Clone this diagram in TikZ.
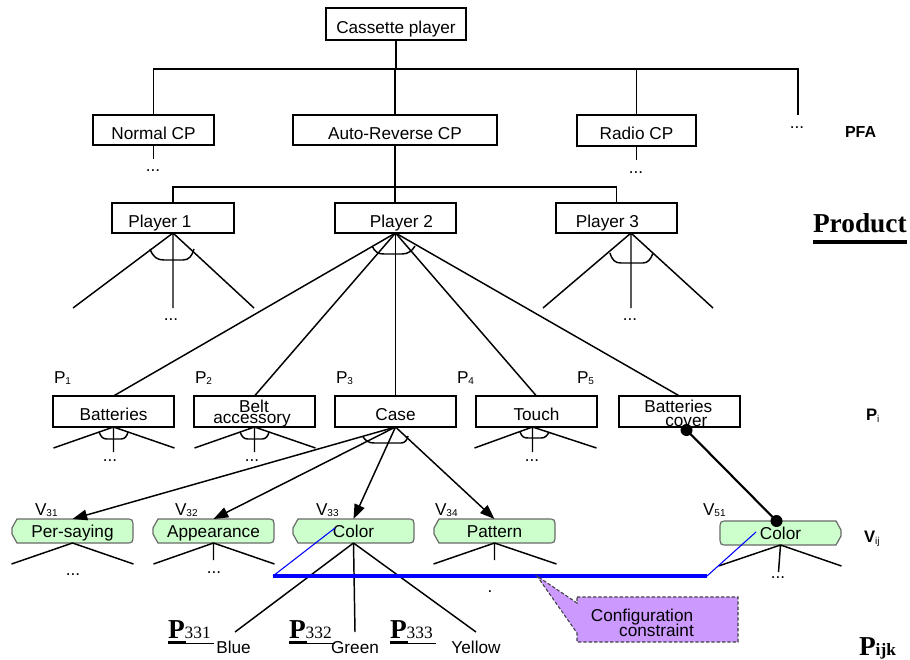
\documentclass[tikz,border=0pt]{standalone}
\usepackage{fontspec}
\setmainfont{Liberation Sans}
\newfontfamily\tms{Liberation Serif}
\usetikzlibrary{arrows.meta,calc,backgrounds}

\definecolor{vgreen}{RGB}{204,255,204}
\definecolor{vedge}{RGB}{105,105,105}
\definecolor{notefill}{RGB}{204,153,255}

% small index set on the baseline
\newcommand\smallsub[1]{\raisebox{-1.2pt}{\fontsize{7.5}{7.5}\selectfont #1}}

% value frame: chamfered on the left, rounded on the right
\newcommand\vframeL[1]{%
  \begin{scope}[on background layer]
    \path[vframe] ($(#1.north west)+(5,0)$) -- ($(#1.north east)+(-8,0)$)
      .. controls (#1.north east) .. ($(#1.east)+(0,-3)$) -- ($(#1.east)+(0,3)$)
      .. controls (#1.south east) .. ($(#1.south east)+(-8,0)$)
      -- ($(#1.south west)+(5,0)$) -- ($(#1.west)+(0,3)$) -- ($(#1.west)+(0,-3)$) -- cycle;
  \end{scope}}
% value frame: rounded on the left, chamfered on the right
\newcommand\vframeR[1]{%
  \begin{scope}[on background layer]
    \path[vframe] ($(#1.north east)+(-5,0)$) -- ($(#1.north west)+(8,0)$)
      .. controls (#1.north west) .. ($(#1.west)+(0,-3)$) -- ($(#1.west)+(0,3)$)
      .. controls (#1.south west) .. ($(#1.south west)+(8,0)$)
      -- ($(#1.south east)+(-5,0)$) -- ($(#1.east)+(0,3)$) -- ($(#1.east)+(0,-3)$) -- cycle;
  \end{scope}}

\begin{document}
\begin{tikzpicture}[x=0.75pt,y=-0.75pt,
  line width=1.1pt,
  every node/.style={inner sep=0pt, outer sep=0pt, font=\fontsize{12.9}{14}\selectfont},
  box/.style={draw, line width=1.1pt, text height=13.6pt, text depth=0pt},
  wbox/.style={box, minimum width=90.75pt, minimum height=22.5pt},
  pbox/.style={box, minimum width=90.75pt, minimum height=23.25pt},
  vtxt/.style={minimum width=90.75pt, minimum height=18pt, text height=11.5pt, text depth=1.5pt},
  vframe/.style={fill=vgreen, draw=vedge, line width=0.9pt},
  arr/.style={-{Triangle[length=11pt,width=8pt]}},
  thinblue/.style={draw=blue, line width=0.8pt},
  thickblue/.style={draw=blue, line width=3pt},
  lab/.style={anchor=base west},
  tag/.style={anchor=base west, font=\bfseries\fontsize{12}{13}\selectfont},
  ser/.style={anchor=base west, font=\tms\bfseries\fontsize{20.5}{22}\selectfont},
  note/.style={fill=notefill, draw=black!75, line width=0.8pt, dash pattern=on 2.5pt off 1.5pt},
]
\useasboundingbox (0,0) rectangle (910,660);

% ---------- product family level ----------
\node[box, minimum width=105pt, minimum height=24pt] (cp) at (396,24) {Cassette player};
\node[wbox] (ncp) at (153.5,130) {Normal CP};
\node[box, minimum width=153pt, minimum height=22.5pt] (arcp) at (395,130) {Auto-Reverse CP};
\node[box, minimum width=89.25pt, minimum height=23pt] (rcp) at (636.5,130.5) {Radio CP};
\node (moredots) at (797,128) {...};
\node[tag] (pfa) at (845,137.7) {PFA};

\coordinate (bus) at (396,69);
\coordinate (moreend) at (798,115);
\draw (cp.south) -- (bus);
\draw (ncp.north) |- (bus) -| (moreend);
\draw (arcp.north) -- (arcp.north |- bus);
\draw (rcp.north) -- (rcp.north |- bus);

\draw (ncp.south) -- ++(0,14);
\node (ncpdots) at (153,171) {...};
\draw (rcp.south) -- ++(0,14);
\node (rcpdots) at (636,173) {...};

% ---------- product level ----------
\node[wbox, minimum width=91.5pt] (pl1) at (173,218) {\hspace*{-19.5pt}Player 1};
\node[wbox] (pl2) at (395.5,218) {\hspace*{9pt}Player 2};
\node[wbox] (pl3) at (616.5,218) {\hspace*{-13.5pt}Player 3};
\node[ser] (prod) at (813,232) {Product};
\draw[line width=3pt] ([shift={(0,10)}]prod.base west) -- ([shift={(0,10)}]prod.base east);

\coordinate (bus2) at (395,187);
\draw (arcp.south) -- (arcp.south |- pl2.north);
\draw (pl1.north) |- (bus2) -| (pl3.north);

% Player 1 and Player 3 sub-trees
\draw (pl1.south) -- ++(-100,75) (pl1.south) -- ++(0,75) (pl1.south) -- ++(81,75);
\draw (150,249) .. controls (153,257) and (157,260) .. (164,260) -- (183,260)
      .. controls (189,260) and (192,256) .. (194,249);
\node (pl1dots) at (171,320) {...};

\coordinate (ap3) at ([shift={(14.5,0)}]pl3.south);
\draw (ap3) -- ++(-88,75) (ap3) -- ++(0,75) (ap3) -- ++(82,75);
\draw (610,253) .. controls (612,260) and (615,263) .. (621,263) -- (643,263)
      .. controls (648,263) and (651,259) .. (653,253);
\node (pl3dots) at (630,320) {...};

% ---------- parts ----------
\node[lab] (lp1) at (54,383) {P\smallsub{1}};
\node[lab] (lp2) at (195,383) {P\smallsub{2}};
\node[lab] (lp3) at (336,383) {P\smallsub{3}};
\node[lab] (lp4) at (457,383) {P\smallsub{4}};
\node[lab] (lp5) at (577,383) {P\smallsub{5}};

\node[pbox] (bat) at (113.5,411.5) {Batteries};
\node[pbox] (belt) at (254.5,411.5) {};
\node[anchor=base] (beltA) at (254,412.2) {Belt};
\node[anchor=base] (beltB) at (252,423.5) {accessory};
\node[pbox] (case) at (395.5,411.5) {Case};
\node[pbox] (touch) at (536.5,411.5) {Touch};
\node[pbox] (bcov) at (679.5,411.5) {};
\node[anchor=base] (bcovA) at (678.3,412.2) {Batteries};
\node[anchor=base] (bcovB) at (686.3,426) {cover};
\node[anchor=base west, font=\bfseries\fontsize{12.5}{14}\selectfont] (lpi) at (866,420.7) {P\smallsub{\mdseries i}};

\draw (pl2.south) -- (bat.north);
\draw (pl2.south) -- (belt.north);
\draw (pl2.south) -- (case.north);
\draw (pl2.south) -- (touch.north);
\draw (pl2.south) -- (bcov.north);
\draw (372,246) .. controls (375,252) and (378,254) .. (384,254) -- (402,254)
      .. controls (408,254) and (412,251) .. (415,246);

% part sub-trees
\draw (bat.south) -- ++(-60,21) (bat.south) -- ++(0,25) (bat.south) -- ++(61,21);
\draw (99,432) .. controls (101,437) and (103,439) .. (107,439) -- (121,439)
      .. controls (125,439) and (127,436) .. (128,432);
\node (batdots) at (110,461) {...};

\draw (belt.south) -- ++(-60,21) (belt.south) -- ++(0,25) (belt.south) -- ++(61,21);
\draw (240,432) .. controls (242,437) and (244,439) .. (248,439) -- (262,439)
      .. controls (266,439) and (268,436) .. (269,432);
\node (beltdots) at (252,461) {...};

\coordinate (apT) at ([shift={(-4,0)}]touch.south);
\draw (apT) -- ++(-58,21) (apT) -- ++(0,25) (apT) -- ++(64,21);
\draw (520,432) .. controls (522,437) and (524,438) .. (528,438) -- (541,438)
      .. controls (545,438) and (547,436) .. (549,432);
\node (touchdots) at (532,461) {...};

% ---------- variants ----------
\node[vtxt] (ps) at (72.5,531) {Per-saying};
\node[vtxt] (ap) at (213.5,531) {Appearance};
\node[vtxt] (c33) at (353.5,531) {Color};
\node[vtxt] (pat) at (494.5,531) {Pattern};
\node[vtxt] (c51) at (780.5,533) {Color};
\vframeL{ps}\vframeL{ap}\vframeL{c33}\vframeL{pat}\vframeR{c51}

\node[lab] (lv31) at (35,515) {V\smallsub{31}};
\node[lab] (lv32) at (175,515) {V\smallsub{32}};
\node[lab] (lv33) at (316,515) {V\smallsub{33}};
\node[lab] (lv34) at (435,515) {V\smallsub{34}};
\node[lab] (lv51) at (703,515) {V\smallsub{51}};
\node[anchor=base west, font=\bfseries\fontsize{12.5}{14}\selectfont] (lvij) at (864,542.7) {V\smallsub{\mdseries ij}};

\draw[arr] (case.south) -- (ps.north);
\draw[arr] (case.south) -- (ap.north);
\draw[arr] (case.south) -- (c33.north);
\draw[arr] (case.south) -- (pat.north);
\draw (363,437) .. controls (366,441) and (369,443) .. (374,443) -- (401,443)
      .. controls (405,443) and (407,440) .. (408,436);

% compatibility link between the batteries cover and its colour
\coordinate (k1) at ([shift={(7,3)}]bcov.south);
\coordinate (k2) at ([shift={(-4,0)}]c51.north);
\draw[line width=1.6pt] (k1) -- (k2);
\fill (k1) circle (4.5pt);
\fill (k2) circle (4.5pt);

% variant sub-trees
\draw (ps.south) -- ++(-61,21) (ps.south) -- ++(61,21);
\node (psdots) at (73,575) {...};
\draw (ap.south) -- ++(-60,21) (ap.south) -- ++(0,17) (ap.south) -- ++(61,21);
\node (apdots) at (214,573) {...};
\draw (pat.south) -- ++(-61,21) (pat.south) -- ++(0,17) (pat.south) -- ++(62,21);
\node (patdot) at (490,592) {.};
\draw (c51.south) -- ++(-62,21) (c51.south) -- ++(-2,27) (c51.south) -- ++(61,21);
\node (c51dots) at (778,578) {...};

% colour values of the case
\coordinate (eBlue) at (235,632);
\coordinate (eGreen) at (355,632);
\coordinate (eYellow) at (476,632);
\draw (c33.south) -- (eBlue);
\draw (c33.south) -- (eGreen);
\draw (c33.south) -- (eYellow);
\node[anchor=base] (vblue) at (233.5,653) {Blue};
\node[anchor=base] (vgreen) at (355,653) {Green};
\node[anchor=base] (vyellow) at (476,653) {Yellow};

\node[ser] (p331) at (168,638) {P{\fontsize{13}{13}\selectfont\mdseries 331}};
\node[ser] (p332) at (289,638) {P{\fontsize{13}{13}\selectfont\mdseries 332}};
\node[ser] (p333) at (390,638) {P{\fontsize{13}{13}\selectfont\mdseries 333}};
\foreach \p in {p331,p332,p333}{
  \draw[line width=1.8pt] ([shift={(0,4.5)}]\p.base west) -- ++(18,0);
  \draw[line width=0.7pt] ([shift={(18,5)}]\p.base west) -- ++(28,0);
}
\node[ser] (pijk) at (859,655.5) {P{\fontsize{13}{13}\selectfont ijk}};

% configuration constraint between the two colours
\coordinate (cb1) at (335,528);
\coordinate (cb2) at (273,576);
\coordinate (cb3) at (707,576);
\coordinate (cb4) at (756,532);
\draw[thinblue] (cb1) -- (cb2);
\draw[thickblue] (cb2) -- (cb3);
\draw[thinblue] (cb3) -- (cb4);

\path[note] (577,597) -- (738,597) -- (738,642) -- (577,642) -- (577,633)
      -- (537,576) -- (577,603) -- cycle;
\node[anchor=base] (cfg1) at (642,621) {Configuration};
\node[anchor=base] (cfg2) at (656.5,636.5) {constraint};
\end{tikzpicture}
\end{document}
